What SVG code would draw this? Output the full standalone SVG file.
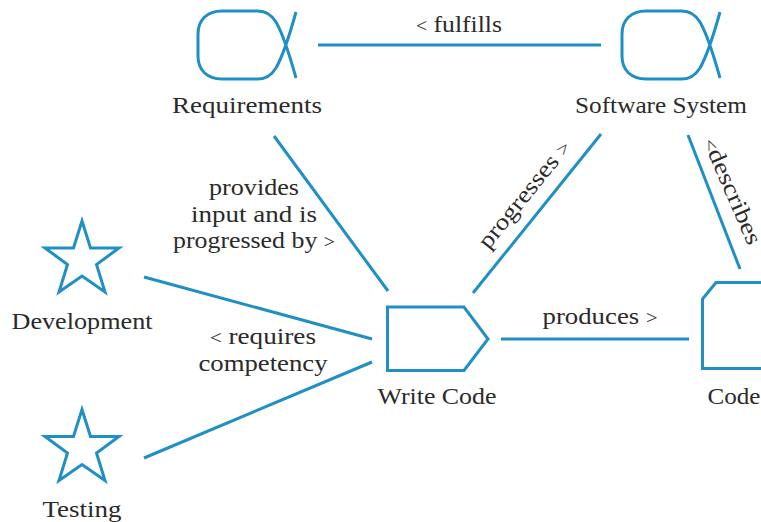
<svg xmlns="http://www.w3.org/2000/svg" width="761" height="522" viewBox="0 0 761 522">
<style>
.s{fill:none;stroke:#1f8fc4;stroke-width:3}
text{font-family:"Liberation Serif",serif;font-size:23.5px;fill:#2b2a2a;text-anchor:middle}
.m{font-size:18px}
</style>
<defs>
<path id="star" d="M82 221L90.500 248H119L96.500 264.500L105 292L82 276L59 292L67.500 264.500L45 248H73.500Z"/>
</defs>
<rect width="761" height="522" fill="#fff"/>
<g id="connectors" class="s">
<path d="M318 45H601"/>
<path d="M274 136L388 291"/>
<path d="M144 277L372 339"/>
<path d="M144 458L372 362"/>
<path d="M473 293L601 134"/>
<path d="M688 135L740 269"/>
<path d="M501 339H689"/>
</g>
<g id="requirements"><path class="s" d="M296 78C291 60 284 36 276 22C271 14 265 11 258 11H222C207 11 198 20 198 34V56C198 70 207 79 222 79H258C265 79 271 76 276 68C284 54 291 30 296 12"/><text x="247" y="113" textLength="150" lengthAdjust="spacingAndGlyphs">Requirements</text></g>
<g id="software-system"><path class="s" d="M720 78C715 60 708 36 700 22C695 14 689 11 682 11H646C631 11 622 20 622 34V56C622 70 631 79 646 79H682C689 79 695 76 700 68C708 54 715 30 720 12"/><text x="661" y="113" textLength="172" lengthAdjust="spacingAndGlyphs">Software System</text></g>
<g id="development"><use href="#star" class="s"/><text x="82" y="329" textLength="141" lengthAdjust="spacingAndGlyphs">Development</text></g>
<g id="testing"><use href="#star" class="s" y="188.500"/><text x="82" y="517" textLength="79" lengthAdjust="spacingAndGlyphs">Testing</text></g>
<g id="write-code"><path class="s" d="M387.500 307H464L488 339L464 370.500H387.500Z"/><text x="437" y="404" textLength="119" lengthAdjust="spacingAndGlyphs">Write Code</text></g>
<g id="code"><path class="s" d="M763 282.500H716L702.500 299V368.500H763"/><text x="734" y="404" textLength="53" lengthAdjust="spacingAndGlyphs">Code</text></g>
<g id="labels">
<text x="459" y="32" textLength="86" lengthAdjust="spacingAndGlyphs"><tspan class="m">&lt;</tspan> fulfills</text>
<text x="254" y="195" textLength="90" lengthAdjust="spacingAndGlyphs">provides</text>
<text x="254" y="222" textLength="126" lengthAdjust="spacingAndGlyphs">input and is</text>
<text x="254" y="248" textLength="162" lengthAdjust="spacingAndGlyphs">progressed by <tspan class="m">&gt;</tspan></text>
<text x="263" y="344" textLength="106" lengthAdjust="spacingAndGlyphs"><tspan class="m">&lt;</tspan> requires</text>
<text x="263" y="371" textLength="129" lengthAdjust="spacingAndGlyphs">competency</text>
<text x="600" y="324" textLength="115" lengthAdjust="spacingAndGlyphs">produces <tspan class="m">&gt;</tspan></text>
<text transform="translate(530 199) rotate(-51)" textLength="132" lengthAdjust="spacingAndGlyphs">progresses <tspan class="m">&gt;</tspan></text>
<text transform="translate(725.500 194) rotate(66.500)" textLength="114" lengthAdjust="spacingAndGlyphs"><tspan class="m">&lt;</tspan>describes</text>
</g>
</svg>
